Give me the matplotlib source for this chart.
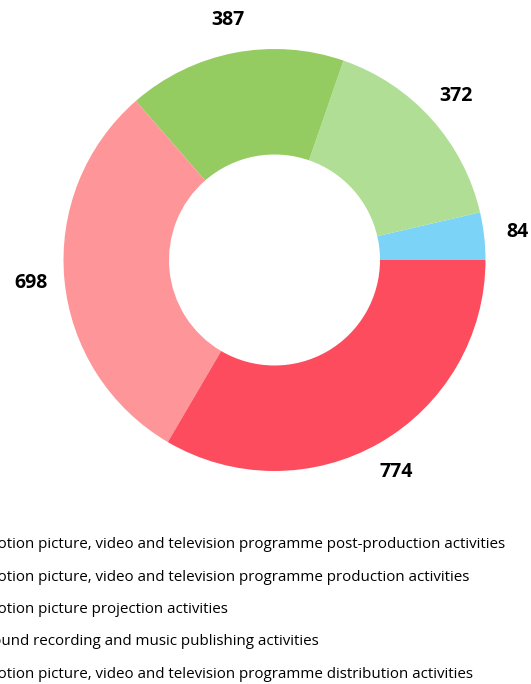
import matplotlib
matplotlib.use('Agg')
import matplotlib.pyplot as plt
import numpy as np

plt.rcParams['font.family'] = ['Open Sans', 'DejaVu Sans']

# slice values in drawing order (counter-clockwise from 3 o'clock)
values = [84, 372, 387, 698, 774]
colors = ['#7bd3f7', '#b1de95', '#95cc61', '#fe9599', '#fd4c5d']
categories = [
    'Motion picture, video and television programme post-production activities',
    'Motion picture, video and television programme production activities',
    'Motion picture projection activities',
    'Sound recording and music publishing activities',
    'Motion picture, video and television programme distribution activities',
]

W, H = 531, 684
fig = plt.figure(figsize=(W / 100, H / 100), dpi=100)

# pie centre and radius in pixels
cx, cy, R = 274.5, 260, 211
lim = 1.3
side = 2 * lim * R
ax = fig.add_axes([(cx - side / 2) / W, (H - cy - side / 2) / H, side / W, side / H])

wedges, _ = ax.pie(values, colors=colors, startangle=0, counterclock=True,
                   radius=1, wedgeprops=dict(width=0.5, linewidth=0))
ax.set_xlim(-lim, lim)
ax.set_ylim(-lim, lim)
ax.set_aspect('equal')
ax.axis('off')

for w, v in zip(wedges, values):
    ang = np.deg2rad((w.theta1 + w.theta2) / 2)
    ax.text(1.16 * np.cos(ang), 1.16 * np.sin(ang), str(v), ha='center', va='center',
            fontsize=14, fontweight='bold', color='#000000')

fs = 10.9
fig.legend(wedges, categories, loc='upper left', frameon=False,
           bbox_to_anchor=(-0.136, 1 - 523.5 / H), fontsize=fs,
           labelspacing=1.15, handlelength=2, handletextpad=0.8, borderpad=0.4)

fig.savefig('out.png', dpi=100)
